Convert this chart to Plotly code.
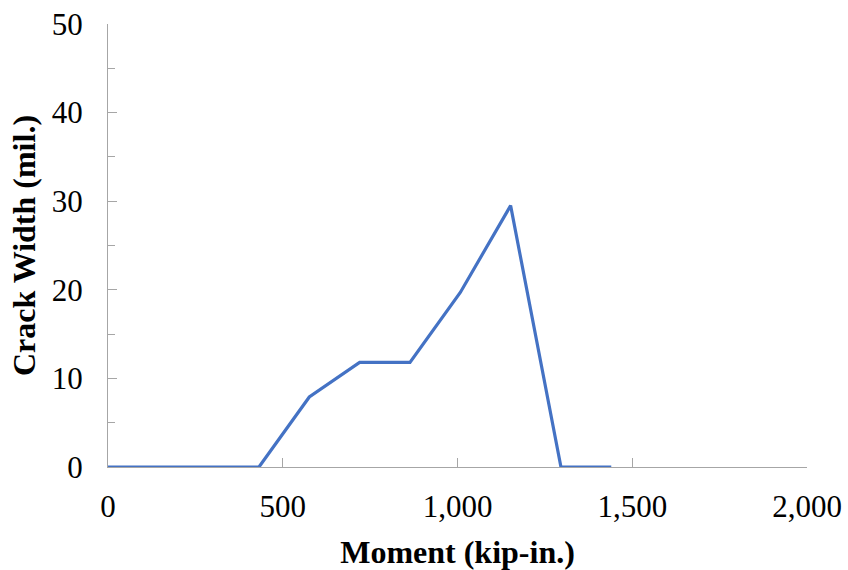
import plotly.graph_objects as go

# Crack width measured against applied moment
moment_kip_in = [0, 144, 288, 432, 576, 720, 864, 1008, 1152, 1296, 1440]
crack_width_mil = [0, 0, 0, 0, 7.9, 11.8, 11.8, 19.7, 29.5, 0, 0]

x_ticks = [0, 500, 1000, 1500, 2000]
x_tick_text = ["0", "500", "1,000", "1,500", "2,000"]
y_ticks = [0, 10, 20, 30, 40, 50]

AXIS_GREY = "#a6a6a6"
FONT = "Liberation Serif, Times New Roman, serif"

fig = go.Figure()
fig.add_trace(go.Scatter(
    x=moment_kip_in,
    y=crack_width_mil,
    mode="lines",
    line=dict(color="#4472c4", width=3.2),
    showlegend=False,
))

fig.update_layout(
    width=848,
    height=570,
    margin=dict(l=108, r=41, t=24, b=103, autoexpand=False),
    paper_bgcolor="white",
    plot_bgcolor="white",
    font=dict(family=FONT, size=30, color="black"),
)

fig.update_xaxes(
    range=[0, 2000],
    tickvals=x_ticks,
    ticktext=x_tick_text,
    automargin=False,
    showgrid=False,
    zeroline=False,
    showline=True,
    linecolor=AXIS_GREY,
    linewidth=1.3,
    ticks="inside",
    ticklen=9,
    tickcolor=AXIS_GREY,
    tickwidth=1.3,
    ticklabelstandoff=12,
    tickfont=dict(family=FONT, size=31),
    title=dict(text="<b>Moment (kip-in.)</b>", font=dict(family=FONT, size=32), standoff=20),
)

fig.update_yaxes(
    range=[0, 50],
    tickvals=y_ticks,
    automargin=False,
    showgrid=False,
    zeroline=False,
    showline=True,
    linecolor=AXIS_GREY,
    linewidth=1.3,
    ticks="inside",
    ticklen=9,
    tickcolor=AXIS_GREY,
    tickwidth=1.3,
    minor=dict(dtick=5, ticks="inside", ticklen=7, tickcolor=AXIS_GREY, tickwidth=1.3, showgrid=False),
    ticklabelstandoff=18,
    tickfont=dict(family=FONT, size=31),
    title=dict(text="<b>Crack Width (mil.)</b>", font=dict(family=FONT, size=32), standoff=6),
)

fig.write_html("out.html")
